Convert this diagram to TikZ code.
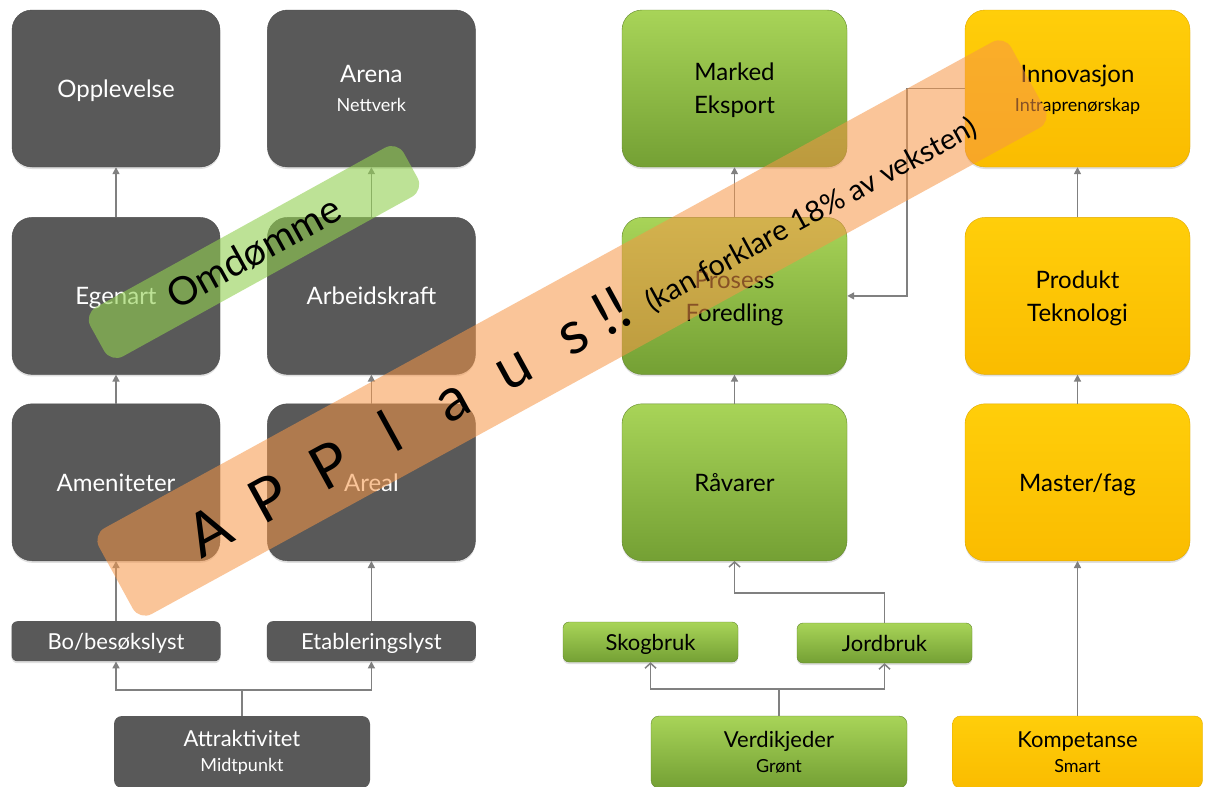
\documentclass[tikz,border=0pt]{standalone}
\usepackage{fontspec}
\setmainfont{Lato}
\usetikzlibrary{positioning}
\usetikzlibrary{arrows.meta}
\usetikzlibrary{shadows}

\definecolor{boxgray}{RGB}{89,89,89}
\definecolor{greentop}{RGB}{168,212,88}
\definecolor{greenbot}{RGB}{116,160,52}
\definecolor{yellowtop}{RGB}{255,206,10}
\definecolor{yellowbot}{RGB}{250,188,0}
\definecolor{linegray}{RGB}{128,128,128}
\definecolor{bandgreen}{RGB}{146,208,80}
\definecolor{bandorange}{RGB}{247,150,70}

\newcommand{\sublabel}[1]{{\fontsize{18}{20}\selectfont #1}}

\begin{document}
\begin{tikzpicture}[%
    x=1pt, y=-1pt,
    node distance=50pt,
bigbox/.style={rectangle, rounded corners=20pt, align=center, minimum width=208pt, minimum height=157pt, text depth=0pt, font=\fontsize{24}{33}\selectfont, drop shadow={opacity=0.25, shadow xshift=0pt, shadow yshift=-2pt}},
darkbig/.style={bigbox, fill=boxgray, draw=boxgray!85!black, text=white},
greenbig/.style={bigbox, minimum width=225pt, top color=greentop, bottom color=greenbot, draw=greenbot!85!black, text=black},
yellowbig/.style={bigbox, minimum width=225pt, top color=yellowtop, bottom color=yellowbot, draw=yellowbot!90!black, text=black},
smallbox/.style={rectangle, rounded corners=6pt, align=center, minimum height=40pt, text depth=0pt, font=\fontsize{22}{26}\selectfont, drop shadow={opacity=0.25, shadow xshift=0pt, shadow yshift=-2pt}},
footbox/.style={rectangle, rounded corners=8pt, align=center, minimum width=256pt, minimum height=72pt, font=\fontsize{22}{25}\selectfont},
arr/.style={draw=linegray, line width=1.5pt, -{Triangle[length=7pt,width=7pt]}},
openarr/.style={draw=linegray, line width=1.5pt, -{Straight Barb[length=5pt,width=11pt]}},
band/.style={rectangle, rounded corners=14pt, fill opacity=0.6, text opacity=1, text=black}
]

\path[use as bounding box, fill=white] (0,0) rectangle (1210,787);

% dark nodes
\node[darkbig]      (opplevelse) at (116,88.5) {Opplevelse};
\node[darkbig]      (arena) [right=47pt of opplevelse] {Arena\\[-4pt]\sublabel{Nettverk}};
\node[darkbig]      (egenart) [below=of opplevelse] {Egenart};
\node[darkbig]      (arbeid) [below=of arena] {Arbeidskraft};
\node[darkbig]      (amenit) [below=29pt of egenart] {Ameniteter};
\node[darkbig]      (areal) [below=29pt of arbeid] {Areal};
\node[smallbox, minimum width=209pt, fill=boxgray, text=white]      (bo) [below=60pt of amenit] {Bo/besøkslyst};
\node[smallbox, minimum width=209pt, fill=boxgray, text=white]      (etabl) [below=60pt of areal] {Etableringslyst};
\node[footbox, fill=boxgray, text=white]      (attrak) at (242,752) {Attraktivitet\\\sublabel{Midtpunkt}};

% green nodes
\node[greenbig]      (marked) at (734.5,88.5) {Marked\\Eksport};
\node[greenbig]      (prosess) [below=of marked] {Prosess\\Foredling};
\node[greenbig]      (ravarer) [below=29pt of prosess] {Råvarer};
\node[smallbox, minimum width=175pt, top color=greentop, bottom color=greenbot, draw=greenbot!85!black]      (skog) at (650.5,642) {Skogbruk};
\node[smallbox, minimum width=175pt, top color=greentop, bottom color=greenbot, draw=greenbot!85!black]      (jord) at (884.5,643) {Jordbruk};
\node[footbox, top color=greentop, bottom color=greenbot, draw=greenbot!85!black]      (verdi) at (779,752) {Verdikjeder\\\sublabel{Grønt}};

% yellow nodes
\node[yellowbig]      (innov) at (1077.5,88.5) {Innovasjon\\[-4pt]\sublabel{Intraprenørskap}};
\node[yellowbig]      (produkt) [below=of innov] {Produkt\\Teknologi};
\node[yellowbig]      (master) [below=29pt of produkt] {Master/fag};
\node[footbox, minimum width=250pt, top color=yellowtop, bottom color=yellowbot, draw=yellowbot!90!black]      (komp) at (1077.5,752) {Kompetanse\\\sublabel{Smart}};

% dark lines
\draw[arr] (egenart.north) -- (opplevelse.south);
\draw[arr] (arbeid.north) -- (arena.south);
\draw[arr] (amenit.north) -- (egenart.south);
\draw[arr] (areal.north) -- (arbeid.south);
\draw[arr] (bo.north) -- (amenit.south);
\draw[arr] (etabl.north) -- (areal.south);
\draw[arr] (attrak.north) -- ++(0,-26) -| (bo.south);
\draw[arr] (attrak.north) -- ++(0,-26) -| (etabl.south);

% green lines
\draw[arr] (prosess.north) -- (marked.south);
\draw[arr] (ravarer.north) -- (prosess.south);
\draw[openarr] (jord.north) -- ++(0,-30) -| (ravarer.south);
\draw[openarr] (verdi.north) -- ++(0,-27) -| (skog.south);
\draw[openarr] (verdi.north) -- ++(0,-27) -| (jord.south);
\draw[arr] (innov.west) -- ++(-58,0) |- (prosess.east);

% yellow lines
\draw[arr] (produkt.north) -- (innov.south);
\draw[arr] (master.north) -- (produkt.south);
\draw[arr] (komp.north) -- (master.south);

% overlays
\node[band, fill=bandgreen, rotate=28.9, minimum width=358pt, minimum height=56pt, font=\fontsize{39}{39}\selectfont]      (omdomme) at (254,252) {Omdømme};
\node[band, fill=bandorange, fill opacity=0.55, rotate=28.7, minimum width=1040pt, minimum height=98pt, font=\fontsize{60}{60}\selectfont]      (applaus) at (572,328) {\raisebox{-25pt}[0pt][0pt]{\foreach \ch in {A,P,P,l,a,u,s}{\makebox[69pt]{\ch}}\hspace{-6pt}!!\hspace{19pt}{\fontsize{29}{29}\selectfont (kan forklare 18\% av veksten)}}};

\end{tikzpicture}
\end{document}
